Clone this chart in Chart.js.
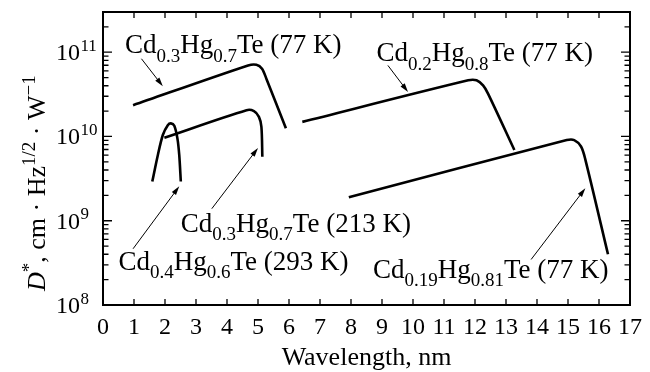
<!DOCTYPE html>
<html>
<head>
<meta charset="utf-8">
<script src="https://cdn.jsdelivr.net/npm/chart.js@4.4.1/dist/chart.umd.min.js"></script>
<style>
  html, body { margin: 0; padding: 0; background: #fff; }
  #chart { display: block; }
</style>
</head>
<body>
<canvas id="chart" width="650" height="372"></canvas>
<script>
// detectivity D* (cm·Hz^1/2/W) against wavelength for each detector
const waveA = [0.97, 4.68, 4.95, 5.13, 5.27, 5.90];               // Cd0.3Hg0.7Te 77 K
const detA  = [2.35e10, 6.97e10, 7.1e10, 6.37e10, 4.85e10, 1.25e10];

const waveB = [1.98, 4.63, 4.87, 5.03, 5.11, 5.14];               // Cd0.3Hg0.7Te 213 K
const detB  = [9.66e9, 2.05e10, 2.0e10, 1.71e10, 1.3e10, 5.75e9];

const waveC = [1.59, 1.77, 1.93, 2.09, 2.19, 2.30, 2.40, 2.46, 2.51]; // Cd0.4Hg0.6Te 293 K
const detC  = [2.92e9, 6.03e9, 1.04e10, 1.36e10, 1.43e10, 1.34e10, 9.5e9, 6.0e9, 2.92e9];

const waveD = [6.43, 11.78, 12.05, 12.26, 12.42, 13.27];          // Cd0.2Hg0.8Te 77 K
const detD  = [1.49e10, 4.64e10, 4.64e10, 4.04e10, 3.23e10, 6.92e9];

const waveE = [7.93, 14.96, 15.20, 15.42, 15.55, 16.29];          // Cd0.19Hg0.81Te 77 K
const detE  = [1.9e9, 9.06e9, 9.06e9, 7.6e9, 5.5e9, 4.0e8];

const decades = [8, 9, 10, 11];

// labels: [text, 0 normal / -1 subscript / 1 superscript]
const labels = [
  { x: 0.71, y: 9.66e10, parts: [['Cd', 0], ['0.3', -1], ['Hg', 0], ['0.7', -1], ['Te (77 K)', 0]] },
  { x: 8.82, y: 7.76e10, parts: [['Cd', 0], ['0.2', -1], ['Hg', 0], ['0.8', -1], ['Te (77 K)', 0]] },
  { x: 2.51, y: 7.43e8,  parts: [['Cd', 0], ['0.3', -1], ['Hg', 0], ['0.7', -1], ['Te (213 K)', 0]] },
  { x: 0.50, y: 2.58e8,  parts: [['Cd', 0], ['0.4', -1], ['Hg', 0], ['0.6', -1], ['Te (293 K)', 0]] },
  { x: 8.71, y: 2.07e8,  parts: [['Cd', 0], ['0.19', -1], ['Hg', 0], ['0.81', -1], ['Te (77 K)', 0]] }
];

// pointer arrows, tail -> head
const arrows = [
  [1.24, 8.36e10, 1.93, 3.94e10],
  [9.19, 6.97e10, 9.84, 3.37e10],
  [3.51, 1.39e9, 5.00, 7.3e9],
  [0.97, 4.65e8, 2.46, 2.56e9],
  [13.81, 3.47e8, 15.56, 2.43e9]
];

const SERIF = '"Liberation Serif", "Times New Roman", serif';

function pts(xs, ys) {
  return xs.map(function (x, i) { return { x: x, y: ys[i] }; });
}

function curve(xs, ys) {
  return {
    data: pts(xs, ys),
    borderColor: '#000',
    borderWidth: 2.6,
    pointRadius: 0,
    fill: false,
    tension: 0.3
  };
}

function drawRich(ctx, parts, x, y, size) {
  let cx = x;
  parts.forEach(function (p) {
    const fs = p[1] === 0 ? size : Math.round(size * 0.72);
    ctx.font = (p[2] ? 'italic ' : '') + fs + 'px ' + SERIF;
    let dy = 0;
    if (p[1] === -1) dy = size * 0.3;
    if (p[1] === 1) dy = -size * 0.4;
    ctx.fillText(p[0], cx, y + dy);
    cx += ctx.measureText(p[0]).width;
  });
}

const decor = {
  id: 'decor',
  afterDraw: function (chart) {
    const ctx = chart.ctx;
    const a = chart.chartArea;
    const xs = chart.scales.x;
    const ys = chart.scales.y;
    ctx.save();
    ctx.strokeStyle = '#000';
    ctx.fillStyle = '#000';

    // frame
    ctx.lineWidth = 2;
    ctx.strokeRect(a.left, a.top, a.right - a.left, a.bottom - a.top);

    // inward ticks
    ctx.lineWidth = 1.3;
    ctx.beginPath();
    for (let v = 0; v <= 17; v++) {
      const px = xs.getPixelForValue(v);
      ctx.moveTo(px, a.bottom); ctx.lineTo(px, a.bottom - 6);
      ctx.moveTo(px, a.top); ctx.lineTo(px, a.top + 6);
    }
    decades.forEach(function (d) {
      for (let m = 1; m <= 9; m++) {
        const val = m * Math.pow(10, d);
        if (val > ys.max) break;
        const py = ys.getPixelForValue(val);
        const len = m === 1 ? 9 : 5.5;
        ctx.moveTo(a.left, py); ctx.lineTo(a.left + len, py);
        ctx.moveTo(a.right, py); ctx.lineTo(a.right - len, py);
      }
    });
    ctx.stroke();

    // y tick labels 10^n
    ctx.textBaseline = 'alphabetic';
    decades.forEach(function (d) {
      const py = ys.getPixelForValue(Math.pow(10, d));
      ctx.font = '24px ' + SERIF;
      ctx.textAlign = 'right';
      ctx.fillText('10', a.left - 23, py + 8);
      ctx.font = '17px ' + SERIF;
      ctx.textAlign = 'left';
      ctx.fillText(String(d), a.left - 22.5, py - 1.5);
    });

    // y axis title
    ctx.save();
    ctx.translate(45, 291);
    ctx.rotate(-Math.PI / 2);
    ctx.textAlign = 'left';
    drawRich(ctx, [['D', 0, true], ['*', 1], [', cm · Hz', 0], ['1/2', 1], [' · W', 0], ['\u22121', 1]], 0, 0, 26);
    ctx.restore();

    // curve labels
    ctx.textAlign = 'left';
    labels.forEach(function (l) {
      drawRich(ctx, l.parts, xs.getPixelForValue(l.x), ys.getPixelForValue(l.y), 27);
    });

    // arrows
    ctx.lineWidth = 1;
    arrows.forEach(function (r) {
      const x0 = xs.getPixelForValue(r[0]), y0 = ys.getPixelForValue(r[1]);
      const x1 = xs.getPixelForValue(r[2]), y1 = ys.getPixelForValue(r[3]);
      const ang = Math.atan2(y1 - y0, x1 - x0);
      ctx.beginPath();
      ctx.moveTo(x0, y0);
      ctx.lineTo(x1 - 6 * Math.cos(ang), y1 - 6 * Math.sin(ang));
      ctx.stroke();
      ctx.beginPath();
      ctx.moveTo(x1, y1);
      ctx.lineTo(x1 - 9 * Math.cos(ang) + 2.6 * Math.sin(ang), y1 - 9 * Math.sin(ang) - 2.6 * Math.cos(ang));
      ctx.lineTo(x1 - 9 * Math.cos(ang) - 2.6 * Math.sin(ang), y1 - 9 * Math.sin(ang) + 2.6 * Math.cos(ang));
      ctx.closePath();
      ctx.fill();
    });
    ctx.restore();
  }
};

new Chart(document.getElementById('chart'), {
  type: 'line',
  data: {
    datasets: [
      curve(waveA, detA),
      curve(waveB, detB),
      curve(waveC, detC),
      curve(waveD, detD),
      curve(waveE, detE)
    ]
  },
  options: {
    responsive: false,
    animation: false,
    layout: { padding: { top: 12, right: 13, left: 0, bottom: 0 } },
    plugins: { legend: { display: false }, tooltip: { enabled: false } },
    scales: {
      x: {
        type: 'linear',
        min: 0,
        max: 17,
        grid: { display: false, drawTicks: false },
        border: { display: false },
        ticks: {
          stepSize: 1,
          autoSkip: false,
          maxRotation: 0,
          padding: 8,
          color: '#000',
          font: { family: SERIF, size: 24 }
        },
        title: {
          display: true,
          text: 'Wavelength, nm',
          color: '#000',
          padding: { top: 0, bottom: 0 },
          font: { family: SERIF, size: 26, lineHeight: 1.1 }
        },
        afterFit: function (s) { s.height = 67; }
      },
      y: {
        type: 'logarithmic',
        min: 1e8,
        max: 3e11,
        grid: { display: false, drawTicks: false },
        border: { display: false },
        ticks: { display: false },
        afterFit: function (s) { s.width = 103; }
      }
    }
  },
  plugins: [decor]
});
</script>
</body>
</html>
